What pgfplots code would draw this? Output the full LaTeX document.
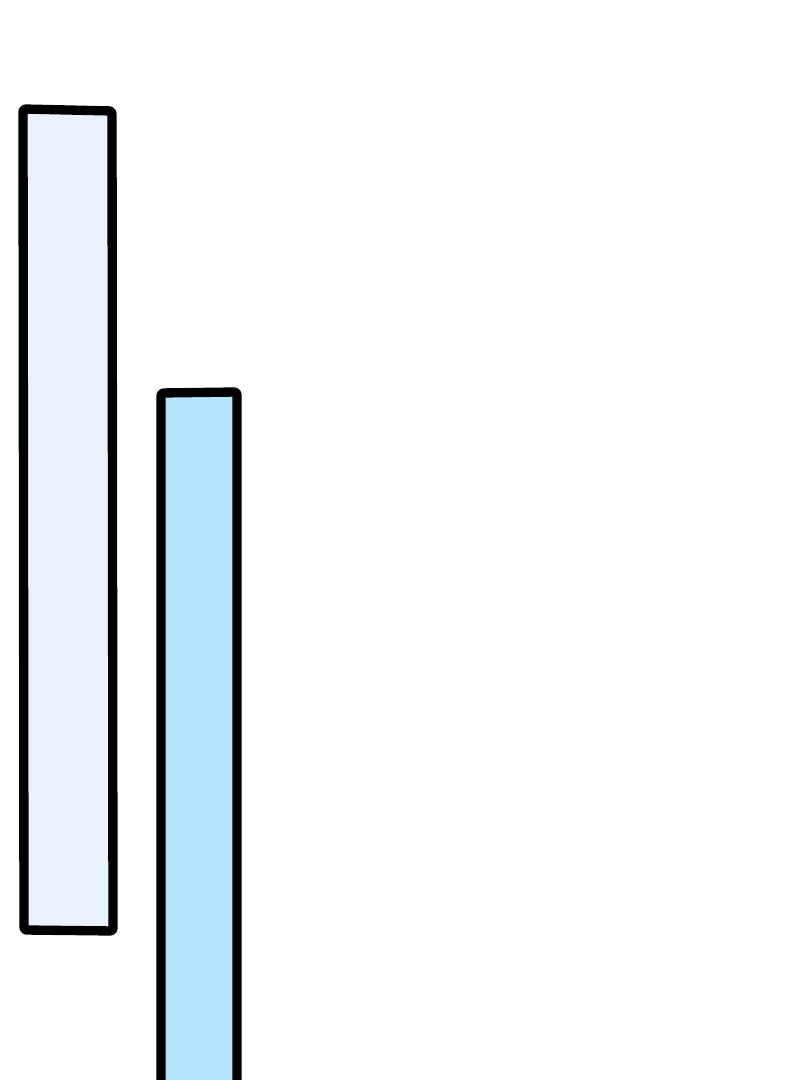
\documentclass[border=0pt]{standalone}
\usepackage{pgfplots}
\pgfplotsset{compat=1.18}
\definecolor{paleblue}{HTML}{E8F1FC}
\definecolor{skyblue}{HTML}{B3E6FC}
\begin{document}
\begin{tikzpicture}
\begin{axis}[
    scale only axis,
    width=600pt, height=810pt,
    xmin=0, xmax=800, ymin=0, ymax=1080,
    axis lines=none,
    clip=true,
]
% two floating boxes, in pixel units of the reference (y upward)
\addplot[draw=black, fill=paleblue, line width=7pt, line join=round, rounded corners=2pt]
    coordinates {(24,150) (113,149) (112,969) (23,971)} -- cycle;
\addplot[draw=black, fill=skyblue, line width=7pt, line join=round, rounded corners=2pt]
    coordinates {(161,-60) (237,-60) (237,688) (161,687)} -- cycle;
\end{axis}
\pgfresetboundingbox
\path[use as bounding box] (current axis.south west) rectangle (current axis.north east);
\end{tikzpicture}
\end{document}
